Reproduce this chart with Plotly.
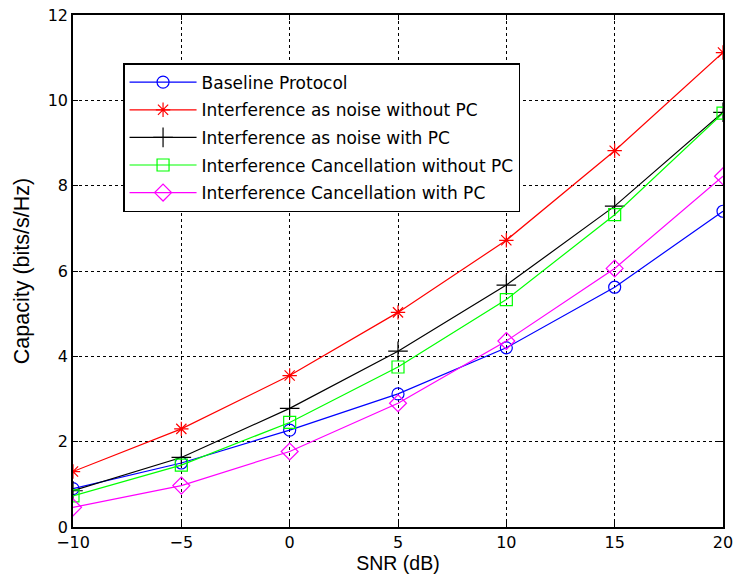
import plotly.graph_objects as go

snr = [-10, -5, 0, 5, 10, 15, 20]
baseline = [0.9, 1.5, 2.27, 3.12, 4.2, 5.62, 7.4]
ian_no_pc = [1.3, 2.3, 3.55, 5.03, 6.72, 8.82, 11.12]
ian_pc = [0.85, 1.63, 2.78, 4.12, 5.67, 7.52, 9.72]
ic_no_pc = [0.73, 1.45, 2.45, 3.75, 5.33, 7.32, 9.7]
ic_pc = [0.46, 0.97, 1.77, 2.9, 4.36, 6.06, 8.22]

names = ["Baseline Protocol", "Interference as noise without PC",
         "Interference as noise with PC", "Interference Cancellation without PC",
         "Interference Cancellation with PC"]
series = [baseline, ian_no_pc, ian_pc, ic_no_pc, ic_pc]
colors = ["#0000ff", "#ff0000", "#000000", "#00ff00", "#ff00ff"]
symbols = ["circle-open", "asterisk-open", "cross-thin-open", "square-open", "diamond-open"]
sizes = [12, 12, 14, 12, 13]

WIDE = "DejaVu Sans, Liberation Sans, Arial, sans-serif"
ARIAL = "Liberation Sans, Arial, sans-serif"

fig = go.Figure()
for i, (n, y, c, s, sz) in enumerate(zip(names, series, colors, symbols, sizes)):
    fig.add_trace(go.Scatter(
        x=snr, y=y, name=n, mode="lines+markers", legendgroup=f"g{i}",
        line=dict(color=c, width=1.2),
        marker=dict(symbol=s, size=sz, color=c, line=dict(color=c, width=1.2)),
    ))

axis_common = dict(
    showline=True, linecolor="black", linewidth=1.5, mirror="ticks",
    ticks="inside", ticklen=5, tickcolor="black",
    showgrid=True, gridcolor="black", griddash="dot", gridwidth=1,
    zeroline=False, automargin=False, ticklabeloverflow="allow",
    tickfont=dict(size=16, color="black", family=WIDE),
)

fig.update_layout(
    width=733, height=581,
    margin=dict(l=73, r=10, t=15, b=54),
    paper_bgcolor="white", plot_bgcolor="white",
    font=dict(family=ARIAL, color="black"),
    xaxis=dict(range=[-10, 20], tickvals=[-10, -5, 0, 5, 10, 15, 20],
               title=dict(text="SNR (dB)", font=dict(size=19.5, family=ARIAL), standoff=4),
               **axis_common),
    yaxis=dict(range=[0, 12], tickvals=[0, 2, 4, 6, 8, 10, 12],
               ticklabelstandoff=0,
               title=dict(text="Capacity (bits/s/Hz)", font=dict(size=21.5, family=ARIAL), standoff=12),
               **axis_common),
    legend=dict(x=0.077, y=0.906, xanchor="left", yanchor="top",
                bgcolor="white", bordercolor="black", borderwidth=1.5,
                font=dict(size=17, color="black", family=WIDE), tracegroupgap=2.5,
                itemwidth=67),
    showlegend=True,
)

fig.write_html("out.html")
